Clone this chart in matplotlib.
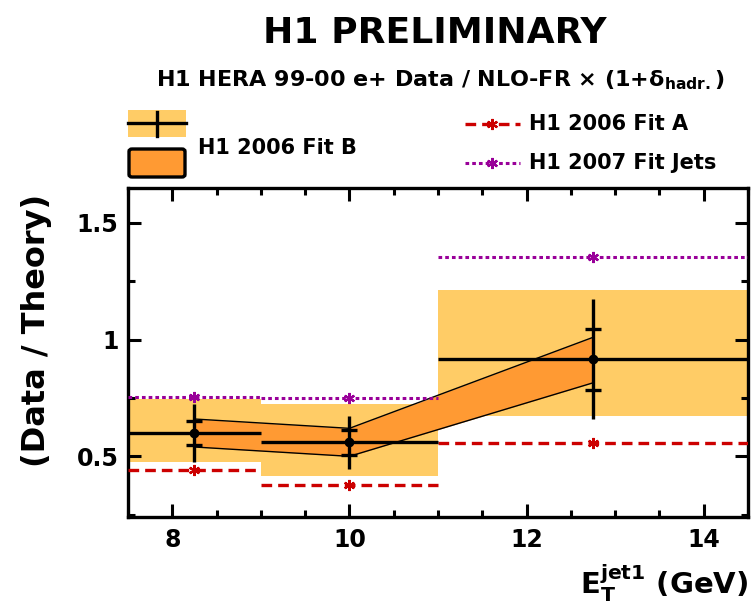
import matplotlib
matplotlib.use("Agg")
import matplotlib.pyplot as plt
from matplotlib.lines import Line2D
from matplotlib.patches import Rectangle, FancyBboxPatch
from matplotlib.ticker import MultipleLocator, FixedLocator, FixedFormatter

plt.rcParams['font.family'] = 'DejaVu Sans'
plt.rcParams['font.weight'] = 'bold'
plt.rcParams['mathtext.fontset'] = 'dejavusans'

# bins in E_T jet1 (GeV)
bin_lo = [7.5, 9.0, 11.0]
bin_hi = [9.0, 11.0, 14.5]
x_pts = [8.25, 10.0, 12.75]

# data / theory
data = [0.60, 0.56, 0.916]
stat_err = [0.05, 0.055, 0.13]
tot_err = [0.125, 0.115, 0.258]

# yellow band per bin
band_lo = [0.474, 0.417, 0.671]
band_hi = [0.745, 0.724, 1.212]

# H1 2006 Fit B band
fitB_lo = [0.54, 0.50, 0.815]
fitB_hi = [0.66, 0.62, 1.01]

# H1 2006 Fit A and H1 2007 Fit Jets
fitA = [0.443, 0.379, 0.556]
jets = [0.755, 0.749, 1.353]

y_ticks = [0.5, 1.0, 1.5]
y_tick_labels = ['0.5', '1', '1.5']
x_ticks = [8, 10, 12, 14]

yellow = '#FFCC66'
orange = '#FF9A33'
red = '#CC0000'
purple = '#990099'
star = (6, 2, 0)

W, H = 754, 607
fig = plt.figure(figsize=(W / 100, H / 100), dpi=100)
ax = fig.add_axes([128 / W, 1 - 517 / H, 620 / W, 329 / H])

# yellow boxes
for lo, hi, blo, bhi in zip(bin_lo, bin_hi, band_lo, band_hi):
    ax.bar(lo, bhi - blo, width=hi - lo, bottom=blo, align='edge',
           color=yellow, lw=0, zorder=1)

# Fit B band
ax.fill_between(x_pts, fitB_lo, fitB_hi, color=orange, lw=0, zorder=2)
ax.plot(x_pts, fitB_lo, color='k', lw=1, zorder=3)
ax.plot(x_pts, fitB_hi, color='k', lw=1, zorder=3)

# Fit A and Fit Jets per bin
for lo, hi, a, j in zip(bin_lo, bin_hi, fitA, jets):
    ax.plot([lo, hi], [a, a], color=red, lw=2.4, dashes=(3.2, 1.8), zorder=4)
    ax.plot([lo, hi], [j, j], color=purple, lw=2.2, dashes=(1.2, 1.0), zorder=4)
ax.plot(x_pts, fitA, ls='none', marker=star, ms=8, mec=red, mew=1.6, zorder=5)
ax.plot(x_pts, jets, ls='none', marker=star, ms=8, mec=purple, mew=1.6, zorder=5)

# data
ax.hlines(data, bin_lo, bin_hi, color='k', lw=2.4, zorder=6)
ax.errorbar(x_pts, data, yerr=tot_err, fmt='o', ms=6, color='k',
            elinewidth=2.4, capsize=0, zorder=7)
for x, d, s in zip(x_pts, data, stat_err):
    ax.hlines([d - s, d + s], x - 0.09, x + 0.09, color='k', lw=2.4, zorder=7)

ax.set_xlim(7.5, 14.5)
ax.set_ylim(0.24, 1.65)
ax.xaxis.set_major_locator(FixedLocator(x_ticks))
ax.xaxis.set_minor_locator(MultipleLocator(0.5))
ax.yaxis.set_major_locator(FixedLocator(y_ticks))
ax.yaxis.set_major_formatter(FixedFormatter(y_tick_labels))
ax.yaxis.set_minor_locator(MultipleLocator(0.25))
ax.tick_params(which='both', direction='in', top=True, right=True, width=2.2)
ax.tick_params(which='major', length=9.5)
ax.tick_params(which='minor', length=4.8)
ax.tick_params(axis='y', labelsize=17, pad=7)
ax.tick_params(axis='x', labelsize=17, pad=8)
for lab in ax.get_xticklabels() + ax.get_yticklabels():
    lab.set_fontweight('bold')
for sp in ax.spines.values():
    sp.set_linewidth(2.4)

# titles
fig.text(435 / W, 1 - 43 / H, 'H1 PRELIMINARY', ha='center', va='baseline',
         fontsize=26, fontweight='bold')
fig.text(440 / W, 1 - 86 / H,
         r'H1 HERA 99-00 e+ Data / NLO-FR $\times$ (1+$\mathrm{\delta}_{\mathbf{hadr.}}$)',
         ha='center', va='baseline', fontsize=16, fontweight='bold')

# axis titles
fig.text(37 / W, 1 - 194 / H, '(Data / Theory)', rotation=90, ha='center',
         va='top', fontsize=23, fontweight='bold')
fig.text(748 / W, 1 - 594 / H, r'$\mathbf{E}_{\mathbf{T}}^{\mathbf{jet1}}$ (GeV)',
         ha='right', va='baseline', fontsize=21, fontweight='bold')

# legend, left block
fig.add_artist(Rectangle((128 / W, 1 - 137 / H), 58 / W, 27 / H,
                         transform=fig.transFigure, color=yellow, lw=0))
fig.add_artist(Line2D([128 / W, 186 / W], [1 - 123 / H, 1 - 123 / H],
                      transform=fig.transFigure, color='k', lw=2.4))
fig.add_artist(Line2D([157 / W, 157 / W], [1 - 112 / H, 1 - 136 / H],
                      transform=fig.transFigure, color='k', lw=2.4))
fig.add_artist(FancyBboxPatch((129 / W, 1 - 177 / H), 56 / W, 28 / H,
                              boxstyle='round,pad=0,rounding_size=0.004',
                              transform=fig.transFigure, fc=orange, ec='k', lw=2.4))
fig.text(198 / W, 1 - 148 / H, 'H1 2006 Fit B', ha='left', va='center',
         fontsize=15, fontweight='bold')

# legend, right block
for yy, col, dsh, lw, label in [(124, red, (3.2, 1.8), 2.4, 'H1 2006 Fit A'),
                                (163, purple, (1.2, 1.0), 2.2, 'H1 2007 Fit Jets')]:
    fig.add_artist(Line2D([465 / W, 520 / W], [1 - yy / H, 1 - yy / H],
                          transform=fig.transFigure, color=col, lw=lw, dashes=dsh))
    fig.add_artist(Line2D([492 / W], [1 - yy / H], transform=fig.transFigure,
                          ls='none', marker=star, ms=8, mec=col, mew=1.6))
    fig.text(529 / W, 1 - yy / H, label, ha='left', va='center',
             fontsize=15, fontweight='bold')

fig.savefig('out.png', dpi=100)
